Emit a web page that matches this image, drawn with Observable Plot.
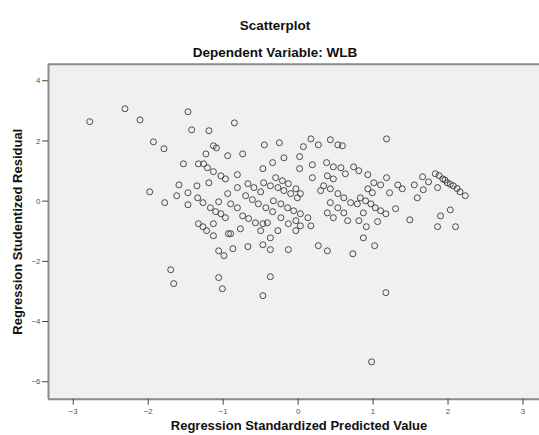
<!DOCTYPE html>
<html><head><meta charset="utf-8">
<script src="https://cdn.jsdelivr.net/npm/d3@7"></script>
<script src="https://cdn.jsdelivr.net/npm/@observablehq/plot@0.6"></script>
<style>
body{margin:0;background:#fff;font-family:"Liberation Sans",Arial,sans-serif;}
#wrap{position:relative;width:539px;height:435px;overflow:hidden;}
.t{position:absolute;left:0;width:550px;text-align:center;font-weight:bold;font-size:13.5px;line-height:14px;color:#111;}
#chart{position:absolute;top:60px;left:0;}
#chart svg{overflow:visible;}
</style></head><body>
<div id="wrap">
<div class="t" id="title" style="top:19px"></div>
<div class="t" id="subtitle" style="top:46px"></div>
<div id="chart"></div>
</div>
<script>
const title = "Scatterplot";
const subtitle = "Dependent Variable: WLB";
const xLabel = "Regression Standardized Predicted Value";
const yLabel = "Regression Studentized Residual";
const xTicks = [-3, -2, -1, 0, 1, 2, 3];
const yTicks = [-6, -4, -2, 0, 2, 4];
const xDomain = [-3.33, 3.22];
const yDomain = [-6.58, 4.55];

const predicted = [
 -2.78,-2.31,-2.11,-1.47,-1.42,-1.93,-1.79,-1.53,-1.33,
 -0.85,-1.19,-1.13,-1.09,-1.23,-0.94,-0.74,-0.45,-0.25,0.07,0.17,0.27,0.43,0.53,
 -1.26,-1.21,-1.13,-1.03,-0.97,-0.47,-0.34,-0.19,0.02,0.02,0.19,0.38,0.47,
 0.59,1.18,0.74,0.57,0.81,0.63,
 -1.98,-1.78,-1.62,-1.59,-1.47,-1.35,-1.47,-1.34,-1.27,-1.19,-1.06,-0.94,
 -1.17,-1.10,-1.03,-0.97,-1.13,-1.33,-1.27,-1.22,-1.13,-0.93,-1.06,-0.99,
 -1.70,-1.66,-1.06,-1.01,
 -0.81,-0.81,-0.67,-0.59,-0.50,-0.46,-0.37,-0.27,-0.19,-0.10,-0.01,
 -0.30,-0.21,-0.13,-0.03,0.03,
 -0.70,-0.61,-0.53,-0.43,-0.34,-0.33,-0.23,-0.14,-0.06,0.03,0.13,
 -0.74,-0.66,-0.57,-0.47,-0.41,-0.90,-0.81,-0.23,-0.13,-0.03,0.03,0.17,
 0.19,0.30,0.39,0.47,0.34,0.43,0.53,0.61,0.70,0.79,0.43,0.53,0.61,0.39,0.47,0.66,0.81,
 -0.77,-0.50,-0.27,-0.03,-0.87,-0.67,-0.47,-0.37,-0.37,-0.13,0.27,0.39,0.73,-0.37,-0.90,
 0.93,1.01,1.10,1.18,1.22,1.33,1.39,1.55,1.66,1.74,1.67,1.59,1.86,
 1.83,1.93,1.99,2.07,2.16,2.23,1.88,1.96,2.03,2.12,
 0.93,0.99,0.83,0.90,0.97,1.03,1.10,1.17,1.30,0.87,1.06,1.49,0.91,0.87,1.02,
 1.90,2.03,1.86,2.10,
 -0.47,1.17,0.98
];
const residual = [
 2.64,3.07,2.70,2.97,2.37,1.97,1.74,1.24,1.24,
 2.60,2.34,1.84,1.77,1.57,1.51,1.57,1.87,1.94,1.81,2.07,1.87,2.04,1.87,
 1.24,1.11,0.98,0.84,0.74,1.08,1.28,1.44,1.48,1.08,1.21,1.28,1.14,
 1.84,2.07,1.14,1.11,1.01,0.91,
 0.31,-0.05,0.18,0.54,0.28,0.51,-0.12,0.11,-0.05,0.61,-0.02,0.25,
 -0.22,-0.35,-0.42,-0.55,-0.75,-0.75,-0.85,-0.98,-1.15,-1.08,-1.65,-1.81,
 -2.28,-2.74,-2.54,-2.91,
 0.88,0.45,0.58,0.45,0.31,0.61,0.51,0.45,0.35,0.25,0.11,
 0.78,0.68,0.58,0.41,0.25,
 0.18,0.05,-0.09,-0.22,-0.35,0.01,-0.09,-0.22,-0.32,-0.42,-0.55,
 -0.49,-0.58,-0.72,-0.75,-0.72,-0.09,-0.22,-0.55,-0.75,-0.65,-0.82,-0.82,
 0.78,0.35,0.84,0.74,0.51,0.41,0.25,0.11,-0.05,-0.09,-0.05,-0.22,-0.39,-0.39,-0.55,-0.65,-0.65,
 -0.92,-0.98,-0.98,-0.98,-1.58,-1.51,-1.45,-1.61,-1.22,-1.61,-1.48,-1.65,-1.75,-2.51,-1.08,
 0.88,0.61,0.54,0.78,0.28,0.54,0.41,0.54,0.81,0.64,0.38,0.11,0.45,
 0.91,0.74,0.61,0.51,0.31,0.18,0.85,0.70,0.56,0.42,
 0.41,0.28,0.11,0.01,-0.09,-0.22,-0.32,-0.42,-0.25,-0.39,-0.68,-0.62,-0.85,-1.22,-1.48,
 -0.49,-0.29,-0.85,-0.85,
 -3.14,-3.04,-5.34
];

document.getElementById("title").textContent = title;
document.getElementById("subtitle").textContent = subtitle;

const data = predicted.map((x, i) => ({x, y: residual[i]}));

const chart = Plot.plot({
  width: 539,
  height: 375,
  marginTop: 3.7,
  marginBottom: 36.3,
  marginLeft: 48,
  marginRight: 0,
  style: {fontFamily: "'Liberation Sans', Arial, sans-serif", background: "transparent", overflow: "visible"},
  x: {domain: xDomain, label: null},
  y: {domain: yDomain, label: null},
  marks: [
    Plot.frame({fill: "#f0f0f0", stroke: null}),
    Plot.ruleY([yDomain[0], yDomain[1]], {stroke: "#8a8a8a", strokeWidth: 2}),
    Plot.ruleX([xDomain[0]], {stroke: "#8a8a8a", strokeWidth: 2}),
    Plot.axisX(xTicks, {tickSize: 6, tickPadding: 3, fontSize: 8, stroke: "#444", fill: "#555", label: null}),
    Plot.axisY(yTicks, {tickSize: 6, tickPadding: 2, fontSize: 8, stroke: "#444", fill: "#555", label: null}),
    Plot.dot(data, {x: "x", y: "y", r: 3, stroke: "#3a3a3a", strokeWidth: 0.9, fill: "none"}),
    Plot.text([xLabel], {frameAnchor: "bottom", textAnchor: "middle", dy: 31, dx: 5, fontSize: 13, fontWeight: "bold", fill: "#111"}),
    Plot.text([yLabel], {frameAnchor: "left", textAnchor: "middle", dx: -31, rotate: -90, fontSize: 13, fontWeight: "bold", fill: "#111"})
  ]
});
document.getElementById("chart").appendChild(chart);
</script>
</body></html>
